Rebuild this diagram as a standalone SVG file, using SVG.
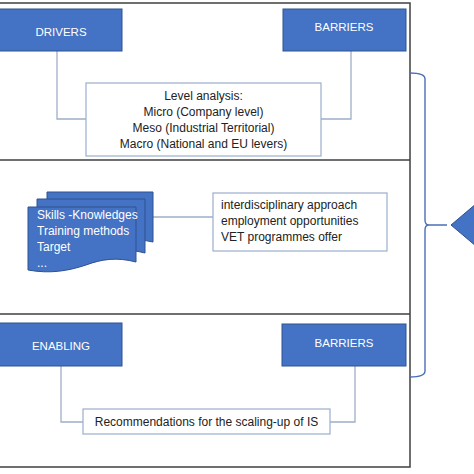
<svg xmlns="http://www.w3.org/2000/svg" width="474" height="474" viewBox="0 0 474 474">
<style>
text{font-family:"Liberation Sans",Arial,sans-serif;font-size:12px;fill:#222}
.blue{fill:#4472C4;stroke:#2F528F;stroke-width:1}
.lbl{fill:#fff;text-anchor:middle;font-size:11.5px}
.wt{fill:#fff}
.tb{fill:#fff;stroke:#9AAFCB;stroke-width:1.2}
.panel{fill:none;stroke:#3F3F3F;stroke-width:1.5}
.conn{fill:none;stroke:#9DAFC8;stroke-width:1.3}
.brace{fill:none;stroke:#4A6FB5;stroke-width:1.4}
</style>
<rect width="474" height="474" fill="#fff"/>
<g id="panels">
<rect class="panel" x="-2" y="3" width="412" height="464"/>
<line class="panel" x1="-2" y1="160" x2="410" y2="160"/>
<line class="panel" x1="-2" y1="314" x2="410" y2="314"/>
</g>
<g id="connectors">
<polyline class="conn" points="57,51 57,119 86,119"/>
<polyline class="conn" points="351,51 351,119 321,119"/>
<line class="conn" x1="153" y1="217" x2="213" y2="217"/>
<polyline class="conn" points="61,366 61,422 83,422"/>
<polyline class="conn" points="355,366 355,422 330,422"/>
</g>
<g id="drivers">
<rect class="blue" x="-1" y="9" width="123" height="42"/>
<text class="lbl" x="61" y="36">DRIVERS</text>
</g>
<g id="barriers-top">
<rect class="blue" x="283" y="9" width="123" height="42"/>
<text class="lbl" x="344" y="31">BARRIERS</text>
</g>
<g id="level-analysis">
<rect class="tb" x="86" y="83" width="235" height="73"/>
<text x="203.5" y="100" text-anchor="middle">Level analysis:</text>
<text x="203.5" y="116" text-anchor="middle">Micro (Company level)</text>
<text x="203.5" y="132" text-anchor="middle">Meso (Industrial Territorial)</text>
<text x="203.5" y="148" text-anchor="middle">Macro (National and EU levers)</text>
</g>
<g id="documents">
<path class="blue" d="M47,192 H153 V242 C135,238 120,240 105,245 C88,251 70,254 47,250 Z"/>
<path class="blue" d="M37,199 H145 V253 C126,248 111,250 95,256 C78,262 60,265 37,261 Z"/>
<path class="blue" d="M28,207 H136 V262 C117,257 102,259 86,265 C68,271 50,274 28,270 Z"/>
<text class="wt" x="37" y="219">Skills -Knowledges</text>
<text class="wt" x="37" y="235">Training methods</text>
<text class="wt" x="37" y="251">Target</text>
<text class="wt" x="37" y="267">...</text>
</g>
<g id="approach">
<rect class="tb" x="213" y="193" width="174" height="58"/>
<text x="221" y="209">interdisciplinary approach</text>
<text x="221" y="225">employment opportunities</text>
<text x="221" y="241">VET programmes offer</text>
</g>
<g id="enabling">
<rect class="blue" x="-1" y="323" width="123" height="43"/>
<text class="lbl" x="61" y="350">ENABLING</text>
</g>
<g id="barriers-bottom">
<rect class="blue" x="282" y="324" width="124" height="42"/>
<text class="lbl" x="344" y="347">BARRIERS</text>
</g>
<g id="recommendations">
<rect class="tb" x="83" y="409" width="247" height="25"/>
<text x="206.5" y="426" text-anchor="middle">Recommendations for the scaling-up of IS</text>
</g>
<g id="brace">
<path class="brace" d="M410,73 Q425,73 425,79 V220 Q425,225 429,225 H447 M429,225 Q425,225 425,230 V371 Q425,377 410,377"/>
</g>
<g id="diamond">
<polygon class="blue" points="451,225 490,192 529,225 490,258"/>
</g>
</svg>
